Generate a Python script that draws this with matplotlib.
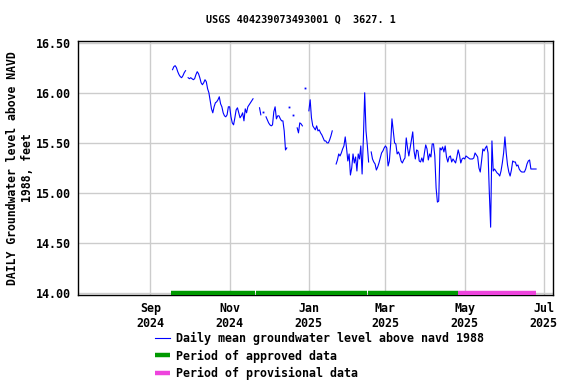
import numpy as np
import pandas as pd
import matplotlib
matplotlib.use("Agg")
import matplotlib.pyplot as plt

# Daily mean groundwater level (ft above NAVD 1988), stored as runs of consecutive days
seg1_start = "2024-09-18"
seg1 = [16.23, 16.26, 16.27, 16.25, 16.21, 16.18, 16.16, 16.15, 16.17, 16.20, 16.22]

seg2_start = "2024-09-30"
seg2 = [16.15, 16.14, 16.15, 16.14, 16.13, 16.14, 16.18, 16.21, 16.19, 16.15,
        16.10, 16.08, 16.10, 16.13, 16.11, 16.04, 16.00, 15.92, 15.84, 15.80,
        15.86, 15.90, 15.91, 15.93, 15.96, 15.89, 15.86, 15.80, 15.77, 15.76,
        15.78, 15.86, 15.86, 15.76, 15.70, 15.68, 15.75, 15.83, 15.85, 15.80,
        15.75, 15.77, 15.80, 15.72, 15.84, 15.80, 15.86, 15.88, 15.90, 15.92,
        15.94]

seg3_start = "2024-11-24"
seg3 = [15.85, 15.78]

seg4_start = "2024-11-27"
seg4 = [15.81]

seg5_start = "2024-11-29"
seg5 = [15.76, 15.73, 15.70, 15.68, 15.67, 15.68, 15.81, 15.86, 15.74, 15.77,
        15.77, 15.74, 15.72, 15.72, 15.62, 15.43, 15.45]

seg6_start = "2024-12-17"
seg6 = [15.86]

seg7_start = "2024-12-20"
seg7 = [15.78]

seg8_start = "2024-12-23"
seg8 = [15.65, 15.60, 15.70, 15.69, 15.67]

seg9_start = "2024-12-29"
seg9 = [16.05]

seg10_start = "2025-01-01"
seg10 = [15.82, 15.93, 15.75, 15.67, 15.65, 15.63, 15.67, 15.62, 15.63, 15.60,
         15.58, 15.55, 15.52, 15.52, 15.50, 15.50, 15.53, 15.57, 15.62]

seg11_start = "2025-01-22"
seg11 = [15.29, 15.33, 15.39, 15.37, 15.40, 15.44, 15.47, 15.56, 15.45, 15.32,
         15.39, 15.18, 15.25, 15.39, 15.30, 15.36, 15.22, 15.39, 15.34, 15.47,
         15.19, 15.55, 16.00, 15.62, 15.48, 15.31]

seg12_start = "2025-02-18"
seg12 = [15.41, 15.34, 15.31, 15.29, 15.23, 15.26, 15.30, 15.35, 15.40, 15.42,
         15.45, 15.47, 15.45, 15.27, 15.32, 15.49, 15.74, 15.62, 15.50, 15.49,
         15.39, 15.41, 15.38, 15.32, 15.30, 15.33, 15.35, 15.55, 15.45, 15.37,
         15.45, 15.53, 15.61, 15.42, 15.34, 15.43, 15.42, 15.32, 15.31, 15.35,
         15.31, 15.40, 15.48, 15.44, 15.33, 15.39, 15.36, 15.49, 15.49, 15.37,
         15.05, 14.91, 14.92, 15.45, 15.43, 15.46, 15.41, 15.47, 15.36, 15.31,
         15.36, 15.37, 15.31, 15.34, 15.32, 15.30, 15.36, 15.43, 15.38, 15.30,
         15.34, 15.35, 15.34, 15.37, 15.36, 15.35, 15.34, 15.34, 15.34, 15.35,
         15.40, 15.38, 15.36, 15.25, 15.21, 15.32, 15.44, 15.42, 15.45, 15.47,
         15.40, 15.00, 14.66, 15.52, 15.22, 15.24, 15.22, 15.20, 15.19, 15.17,
         15.22, 15.30, 15.40, 15.56, 15.40, 15.28, 15.21, 15.17, 15.23, 15.32,
         15.31, 15.31, 15.27, 15.28, 15.24, 15.22, 15.21, 15.21, 15.21, 15.24,
         15.29, 15.32, 15.33, 15.24, 15.24, 15.24, 15.24, 15.24]

segments = [(seg1_start, seg1), (seg2_start, seg2), (seg3_start, seg3),
            (seg4_start, seg4), (seg5_start, seg5), (seg6_start, seg6),
            (seg7_start, seg7), (seg8_start, seg8), (seg9_start, seg9),
            (seg10_start, seg10), (seg11_start, seg11), (seg12_start, seg12)]

# Approval periods
approved = [("2024-09-16", "2024-11-21"), ("2024-11-21", "2025-02-15"),
            ("2025-02-15", "2025-04-26")]
provisional = [("2025-04-26", "2025-06-25")]

tick_dates = ["2024-09-01", "2024-11-01", "2025-01-01", "2025-03-01",
              "2025-05-01", "2025-07-01"]
tick_labels = ["Sep\n2024", "Nov\n2024", "Jan\n2025", "Mar\n2025",
               "May\n2025", "Jul\n2025"]
y_ticks = [14.0, 14.5, 15.0, 15.5, 16.0, 16.5]

plt.rcParams['font.family'] = 'DejaVu Sans Mono'
plt.rcParams['font.weight'] = 'bold'
plt.rcParams['font.size'] = 8.4

fig = plt.figure(figsize=(5.76, 3.84), dpi=100)
ax = fig.add_axes([0.135, 0.232, 0.825, 0.661])

# Build a daily series with gaps (NaN) between runs
parts = []
for start, vals in segments:
    idx = pd.date_range(start, periods=len(vals), freq="D")
    parts.append(pd.Series(vals, index=idx))
series = pd.concat(parts)
full_idx = pd.date_range(series.index.min(), series.index.max(), freq="D")
series = series.reindex(full_idx)

ax.plot(series.index, series.values, color="#0000ff", lw=0.8,
        label="Daily mean groundwater level above navd 1988")

# single isolated days show up as dots
for start, vals in segments:
    if len(vals) == 1:
        ax.plot([pd.Timestamp(start)], vals, "s", color="#0000ff", ms=1.3, mew=0)

for i, (s, e) in enumerate(approved):
    ax.plot([pd.Timestamp(s) + pd.Timedelta(hours=12), pd.Timestamp(e) - pd.Timedelta(hours=12)],
            [14.0, 14.0], color="#009900", lw=3.2, solid_capstyle="butt",
            label="Period of approved data" if i == 0 else None, zorder=3)
for s, e in provisional:
    ax.plot([pd.Timestamp(s), pd.Timestamp(e)], [14.0, 14.0], color="#ee44dd",
            lw=3.2, solid_capstyle="butt", label="Period of provisional data",
            zorder=3)

ax.set_xlim(pd.Timestamp("2024-07-07"), pd.Timestamp("2025-07-08"))
ax.set_ylim(13.985, 16.515)
ax.set_xticks([pd.Timestamp(d) for d in tick_dates])
ax.set_xticklabels(tick_labels)
ax.set_yticks(y_ticks)
ax.set_yticklabels(["%.2f" % v for v in y_ticks])
ax.tick_params(length=0, pad=5)
ax.grid(True, color="#cccccc", lw=1)
ax.set_axisbelow(True)
for sp in ax.spines.values():
    sp.set_linewidth(1)

fig.text(0.523, 0.948, "USGS 404239073493001 Q  3627. 1", fontsize=7.3,
         fontweight="bold", ha="center", va="center")
ax.set_ylabel("DAILY Groundwater level above NAVD\n1988, feet", fontsize=8.3,
              fontweight="bold", labelpad=1)

ax.legend(loc="upper left", bbox_to_anchor=(0.163, -0.145), frameon=False,
          handlelength=1.3, handletextpad=0.5, labelspacing=0.4, borderpad=0,
          borderaxespad=0)

fig.savefig("out.png", dpi=100)
